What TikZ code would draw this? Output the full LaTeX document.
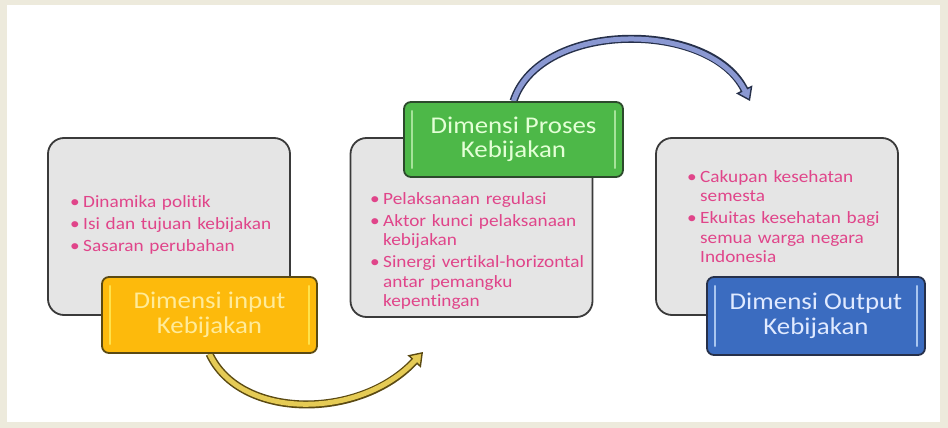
\documentclass[tikz,border=0pt]{standalone}
\usepackage{fontspec}
\newfontfamily\carlito{Carlito}[FakeStretch=1.12,Ligatures=NoCommon]
\usetikzlibrary{arrows.meta}
\definecolor{latar}{HTML}{EDEADC}
\definecolor{abu}{HTML}{E5E5E5}
\definecolor{garis}{HTML}{3A3A3A}
\definecolor{merah}{HTML}{E0458A}
\definecolor{kuning}{HTML}{FDBA0C}
\definecolor{hijau}{HTML}{4DB848}
\definecolor{biru}{HTML}{3B6CC0}
\definecolor{tepiKuning}{HTML}{5B4A12}
\definecolor{tepiHijau}{HTML}{2C4A2C}
\definecolor{tepiBiru}{HTML}{26304A}
\definecolor{hurufKuning}{HTML}{FFEB99}
\definecolor{hurufHijau}{HTML}{E3FFD6}
\definecolor{hurufBiru}{HTML}{E0EAFF}
\definecolor{kilapKuning}{HTML}{FFE24A}
\definecolor{kilapHijau}{HTML}{A6E39A}
\definecolor{kilapBiru}{HTML}{A9C6F0}
\definecolor{panahKuning}{HTML}{E5CB55}
\definecolor{panahBiru}{HTML}{8A98D2}
\pgfdeclarelayer{dasar}
\pgfdeclarelayer{panah}
\pgfsetlayers{dasar,panah,main}
\newcommand\butir[1]{\hangindent=13pt\hangafter=1\noindent\makebox[13pt][l]{\textbullet}#1\par}

\begin{document}
\begin{tikzpicture}[x=1pt,y=-1pt,
    kotak/.style={draw=garis, line width=1.8pt, fill=abu, rounded corners=16pt,
      minimum width=242pt, minimum height=177pt},
    dimensi/.style={line width=1.8pt, rounded corners=7pt, minimum width=218pt,
      minimum height=76pt, align=center, font=\carlito\fontsize{24pt}{24.5pt}\selectfont},
    isi/.style={anchor=north west, inner sep=0pt, text width=230pt, align=left, text=merah,
      font=\carlito\fontsize{17.2pt}{19.5pt}\selectfont, execute at begin node={\parskip=2.5pt}},
    kilap/.style={line width=2.5pt, line cap=round},
    panahluar/.style 2 args={line width=8pt, draw=#1,
      -{Triangle[length=13pt,width=18pt,line width=1.4pt,fill=#2]}},
    panahdalam/.style={line width=5pt, draw=#1, shorten >=11pt}]
    \useasboundingbox (0,0) rectangle (948,428);

    \begin{pgfonlayer}{dasar}
        \fill[latar] (0,0) rectangle (948,428);
        \fill[white] (7,5) rectangle (940,422);

        \node[kotak] (boxInput) at (169,226.5) {};
        \node[kotak, minimum height=179pt] (boxProses) at (471.5,227.5) {};
        \node[kotak] (boxOutput) at (777,226.5) {};

        \node[isi] (isiInput) at (70,195)
            {\butir{Dinamika politik}\butir{Isi dan tujuan kebijakan}\butir{Sasaran perubahan}};
        \node[isi] (isiProses) at (370,192)
            {\butir{Pelaksanaan regulasi}\butir{Aktor kunci pelaksanaan\newline kebijakan}%
             \butir{Sinergi vertikal-horizontal\newline antar pemangku\newline kepentingan}};
        \node[isi] (isiOutput) at (687,170)
            {\butir{Cakupan kesehatan\newline semesta}%
             \butir{Ekuitas kesehatan bagi\newline semua warga negara\newline Indonesia}};
    \end{pgfonlayer}

    \node[dimensi, draw=tepiKuning, fill=kuning, text=hurufKuning, minimum width=215pt]
        (dimInput) at (209.5,315) {Dimensi input\\Kebijakan};
    \node[dimensi, draw=tepiHijau, fill=hijau, text=hurufHijau, minimum width=219pt, minimum height=75pt]
        (dimProses) at (513.5,139.5) {Dimensi Proses\\Kebijakan};
    \node[dimensi, draw=tepiBiru, fill=biru, text=hurufBiru, minimum height=78pt]
        (dimOutput) at (816,316) {Dimensi Output\\Kebijakan};

    \foreach \nama/\warna in {dimInput/kilapKuning, dimProses/kilapHijau, dimOutput/kilapBiru} {
        \draw[kilap, draw=\warna] ([xshift=9pt,yshift=-10pt]\nama.north west) -- ([xshift=9pt,yshift=10pt]\nama.south west);
        \draw[kilap, draw=\warna] ([xshift=-9pt,yshift=-10pt]\nama.north east) -- ([xshift=-9pt,yshift=10pt]\nama.south east);
    }

    \coordinate (ujungKuning) at (423,352);
    \coordinate (ujungBiru) at (750,101);

    \begin{pgfonlayer}{panah}
        \draw[panahluar={tepiKuning}{panahKuning}] (dimInput.south) .. controls (240,420) and (360,420) .. (ujungKuning);
        \draw[panahdalam=panahKuning] (dimInput.south) .. controls (240,420) and (360,420) .. (ujungKuning);
        \draw[panahluar={tepiBiru}{panahBiru}] (dimProses.north) .. controls (540,20) and (710,20) .. (ujungBiru);
        \draw[panahdalam=panahBiru] (dimProses.north) .. controls (540,20) and (710,20) .. (ujungBiru);
    \end{pgfonlayer}
\end{tikzpicture}
\end{document}
